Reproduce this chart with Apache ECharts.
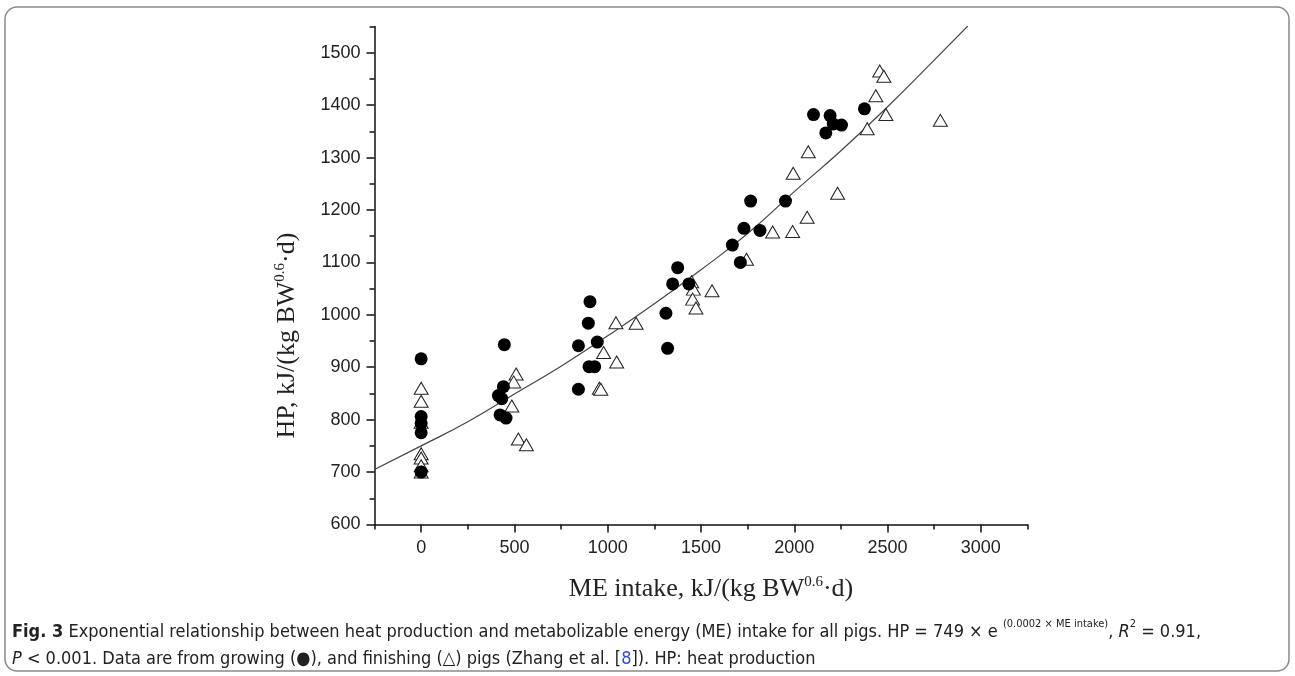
<!DOCTYPE html>
<html>
<head>
<meta charset="utf-8">
<title>HP vs ME intake</title>
<script src="https://cdn.jsdelivr.net/npm/echarts@6/dist/echarts.min.js"></script>
<style>
  html, body { margin: 0; padding: 0; background: #fff; }
  #main { width: 1295px; height: 676px; }
</style>
</head>
<body>
<div id="main"></div>
<script>
// growing pigs (filled circles)
const growX = [0, 0, 0, 0, 0,
  446, 441, 414, 432, 423, 455,
  843, 944, 896, 905, 900, 930, 843,
  1312, 1321, 1375, 1348, 1435,
  1668, 1711, 1730, 1816, 1766, 1953,
  2103, 2192, 2209, 2253, 2169, 2376]
const growY = [916, 806, 793, 775, 700,
  943, 863, 846, 840, 809, 803,
  941, 948, 984, 1025, 901, 901, 858,
  1003, 936, 1090, 1059, 1059,
  1133, 1100, 1165, 1161, 1217, 1217,
  1382, 1380, 1364, 1362, 1347, 1393]

// finishing pigs (open triangles)
const finishX = [0, 0, 0, 0, 0, 0, 0,
  509, 496, 486, 521, 564,
  978, 1048, 955, 963, 1044, 1152,
  1450, 1459, 1455, 1473, 1559, 1744,
  1884, 1991, 2069, 1994, 2075, 2232,
  2391, 2491, 2437, 2458, 2480, 2783]
const finishY = [860, 835, 795, 735, 727, 712, 700,
  887, 872, 826, 763, 752,
  928, 910, 860, 858, 985, 984,
  1063, 1049, 1030, 1013, 1046, 1106,
  1158, 1159, 1186, 1270, 1311, 1232,
  1355, 1382, 1418, 1465, 1455, 1371]

// fitted curve
const fitX = [-250, 0, 250, 500, 750, 1000, 1250, 1500, 1750, 2000, 2250, 2500, 2750, 2930]
const fitY = [705, 750, 796, 849, 902, 960, 1021, 1086, 1155, 1235, 1313, 1397, 1486, 1551]

const xTicks = [0, 500, 1000, 1500, 2000, 2500, 3000]
const xMinorTicks = [-250, 250, 750, 1250, 1750, 2250, 2750, 3250]
const yTicks = [600, 700, 800, 900, 1000, 1100, 1200, 1300, 1400, 1500]
const yMinorTicks = [650, 750, 850, 950, 1050, 1150, 1250, 1350, 1450, 1550]

const pair = (xs, ys) => xs.map((x, i) => [x, ys[i]])

const chart = echarts.init(document.getElementById('main'))

const serif = "'Liberation Serif', 'Times New Roman', serif"
const sans = "'Liberation Sans', Arial, sans-serif"
const narrow = "'Liberation Sans Narrow', 'DejaVu Sans Condensed', 'Roboto Condensed', Roboto, 'DejaVu Sans', sans-serif"

const axisLine = { show: true, onZero: false, lineStyle: { color: '#111', width: 1.5 } }
const plain = (v) => String(v)

const option = {
  backgroundColor: '#fff',
  animation: false,
  grid: { left: 374.5, right: 267.5, top: 26.5, bottom: 151.5 },
  xAxis: [
    {
      type: 'value',
      min: -250,
      max: 3250,
      name: 'ME intake, kJ/(kg BW{sup|0.6}·d)',
      nameLocation: 'middle',
      nameGap: 50,
      nameTextStyle: {
        fontFamily: serif, fontSize: 26, color: '#222', lineHeight: 30, padding: [0, 0, 0, 20],
        rich: { sup: { fontFamily: serif, fontSize: 15, color: '#222', lineHeight: 18, verticalAlign: 'top' } }
      },
      axisLine: axisLine,
      axisTick: { show: true, length: 8, customValues: xTicks, lineStyle: { color: '#111', width: 1.5 } },
      axisLabel: { customValues: xTicks, formatter: plain, margin: 15, fontFamily: sans, fontSize: 18, color: '#222' },
      splitLine: { show: false }
    },
    {
      // minor ticks only
      type: 'value',
      position: 'bottom',
      min: -250,
      max: 3250,
      axisLine: { show: false, onZero: false },
      axisTick: { show: true, length: 5, customValues: xMinorTicks, lineStyle: { color: '#111', width: 1.5 } },
      axisLabel: { show: false },
      splitLine: { show: false }
    }
  ],
  yAxis: [
    {
      type: 'value',
      min: 600,
      max: 1550,
      name: 'HP, kJ/(kg BW{sup|0.6}·d)',
      nameLocation: 'middle',
      nameGap: 72,
      nameTextStyle: {
        fontFamily: serif, fontSize: 26, color: '#222', lineHeight: 30,
        padding: [0, 120, 0, 0],
        rich: { sup: { fontFamily: serif, fontSize: 15, color: '#222', lineHeight: 18, verticalAlign: 'top' } }
      },
      axisLine: axisLine,
      axisTick: { show: true, length: 8, customValues: yTicks, lineStyle: { color: '#111', width: 1.5 } },
      axisLabel: { customValues: yTicks, formatter: plain, margin: 14, fontFamily: sans, fontSize: 18, color: '#222' },
      splitLine: { show: false }
    },
    {
      type: 'value',
      position: 'left',
      min: 600,
      max: 1550,
      axisLine: { show: false, onZero: false },
      axisTick: { show: true, length: 5, customValues: yMinorTicks, lineStyle: { color: '#111', width: 1.5 } },
      axisLabel: { show: false },
      splitLine: { show: false }
    }
  ],
  series: [
    {
      name: 'fit',
      type: 'line',
      smooth: true,
      showSymbol: false,
      data: pair(fitX, fitY),
      lineStyle: { color: '#444', width: 1.2 },
      z: 1
    },
    {
      name: 'finishing',
      type: 'scatter',
      symbol: 'triangle',
      symbolSize: [14, 12],
      data: pair(finishX, finishY),
      itemStyle: { color: '#fff', borderColor: '#222', borderWidth: 1, opacity: 1 },
      z: 2
    },
    {
      name: 'growing',
      type: 'scatter',
      symbol: 'circle',
      symbolSize: 13,
      data: pair(growX, growY),
      itemStyle: { color: '#000', opacity: 1 },
      z: 3
    }
  ],
  graphic: [
    {
      type: 'rect',
      shape: { x: 5, y: 7, width: 1284, height: 664, r: 12 },
      style: { fill: 'none', stroke: '#8a8a8a', lineWidth: 1.5 },
      silent: true
    },
    {
      type: 'text',
      left: 12,
      top: 619,
      style: {
        text: '{b|Fig. 3} Exponential relationship between heat production and metabolizable energy (ME) intake for all pigs. HP = 749 × e {s|(0.0002 × ME intake)}, {i|R}{s|2} = 0.91,\n' +
          '{i|P} < 0.001. Data are from growing (●), and finishing (△) pigs (Zhang et al. [{l|8}]). HP: heat production',
        fontFamily: narrow,
        fontSize: 18,
        lineHeight: 27,
        fill: '#222',
        rich: {
          b: { fontFamily: narrow, fontSize: 18, fontWeight: 'bold', lineHeight: 27, fill: '#222' },
          i: { fontFamily: narrow, fontSize: 18, fontStyle: 'italic', lineHeight: 27, fill: '#222' },
          s: { fontFamily: narrow, fontSize: 11, lineHeight: 16, verticalAlign: 'top', fill: '#222' },
          l: { fontFamily: narrow, fontSize: 18, lineHeight: 27, fill: '#2a4ad8' }
        }
      }
    }
  ]
}

chart.setOption(option)
window.addEventListener('resize', function () {
  chart.resize()
})
</script>
</body>
</html>
